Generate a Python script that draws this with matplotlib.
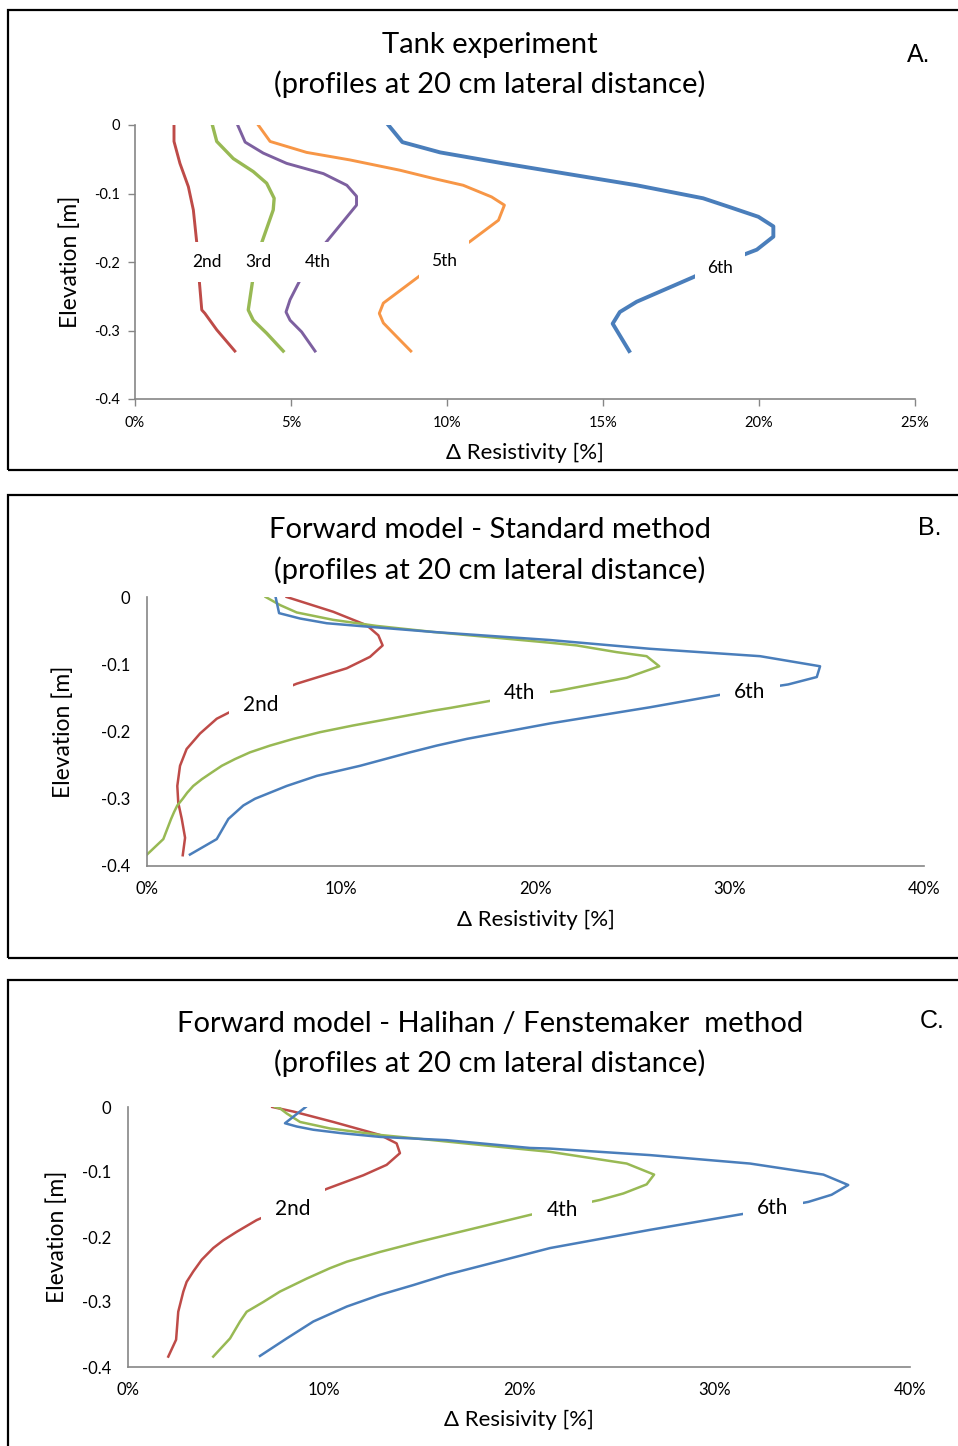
import matplotlib
matplotlib.use("Agg")
import matplotlib.pyplot as plt
from matplotlib.patches import Rectangle
from matplotlib.ticker import FuncFormatter

W, H = 958, 1446
plt.rcParams['font.family'] = ['Lato', 'DejaVu Sans']

BLUE = '#4a7ebb'
RED = '#be4b48'
GREEN = '#98b954'
PURPLE = '#7d60a0'
ORANGE = '#f79646'

# ---- A: tank experiment ----
a2_x = [1.25, 1.25, 1.44, 1.71, 1.87, 1.98, 2.02, 2.06, 2.14, 2.24, 2.62, 3.2]
a2_y = [0, -0.024, -0.056, -0.09, -0.124, -0.172, -0.2, -0.227, -0.27, -0.275, -0.299, -0.33]
a3_x = [2.48, 2.62, 3.15, 3.79, 4.22, 4.46, 4.43, 4.06, 3.92, 3.79, 3.63, 3.79, 4.22, 4.75]
a3_y = [0, -0.024, -0.049, -0.068, -0.085, -0.107, -0.124, -0.172, -0.2, -0.221, -0.27, -0.285, -0.304, -0.33]
a4_x = [3.29, 3.53, 4.11, 4.86, 6.04, 6.79, 7.10, 7.10, 6.11, 5.7, 5.34, 4.97, 4.84, 4.97, 5.34, 5.77]
a4_y = [0, -0.025, -0.041, -0.056, -0.071, -0.088, -0.104, -0.117, -0.172, -0.2, -0.222, -0.255, -0.273, -0.285, -0.302, -0.33]
a5_x = [3.95, 4.33, 5.50, 6.89, 8.49, 9.56, 10.52, 11.43, 11.84, 11.65, 10.74, 9.9, 9.19, 7.96, 7.83, 7.96, 8.28, 8.84]
a5_y = [0, -0.024, -0.04, -0.051, -0.066, -0.078, -0.088, -0.105, -0.117, -0.139, -0.17, -0.195, -0.218, -0.26, -0.275, -0.289, -0.304, -0.33]
a6_x = [8.12, 8.57, 9.78, 11.80, 16.08, 18.21, 19.07, 19.98, 20.46, 20.46, 19.93, 18.9, 17.90, 16.08, 15.54, 15.31, 15.84]
a6_y = [0, -0.025, -0.04, -0.056, -0.088, -0.107, -0.12, -0.134, -0.148, -0.163, -0.182, -0.2, -0.222, -0.258, -0.273, -0.29, -0.33]

# ---- B: forward model, standard method ----
b2_x = [7.19, 9.59, 11.31, 11.91, 12.13, 11.48, 10.28, 7.70, 5.9, 4.27, 3.59, 2.73, 2.04, 1.70, 1.56, 1.61, 1.79, 1.96, 1.84]
b2_y = [0, -0.022, -0.042, -0.057, -0.072, -0.089, -0.106, -0.129, -0.15, -0.171, -0.181, -0.203, -0.226, -0.251, -0.281, -0.306, -0.33, -0.358, -0.384]
b4_x = [6.11, 6.85, 7.71, 9.59, 11.82, 14.74, 20.75, 22.12, 24.18, 25.72, 26.37, 24.70, 21.26, 17.75, 15.60,
        14.74, 12.51, 10.62, 8.91, 7.53, 6.33, 5.30, 4.53, 3.85, 3.33, 2.82, 2.38, 2.07, 1.84, 1.56, 1.39, 1.24,
        0.84, 0.0]
b4_y = [0, -0.012, -0.023, -0.034, -0.043, -0.052, -0.068, -0.072, -0.082, -0.088, -0.103, -0.12, -0.139, -0.154, -0.165,
        -0.169, -0.181, -0.191, -0.201, -0.211, -0.221, -0.231, -0.241, -0.251, -0.261, -0.271, -0.281, -0.291, -0.300,
        -0.310, -0.320, -0.330, -0.36, -0.383]
b6_x = [6.62, 6.80, 7.88, 9.25, 11.31, 14.74, 20.75, 25.89, 31.56, 34.65, 34.48, 33.01, 29.59, 25.89, 20.75,
        16.46, 14.91, 13.54, 10.97, 8.74, 7.19, 5.56, 4.96, 4.19, 3.59, 2.21]
b6_y = [0, -0.024, -0.032, -0.039, -0.044, -0.052, -0.064, -0.077, -0.088, -0.103, -0.119, -0.13, -0.145, -0.164, -0.188,
        -0.211, -0.221, -0.231, -0.251, -0.266, -0.281, -0.300, -0.310, -0.330, -0.36, -0.383]

# ---- C: forward model, Halihan / Fenstemaker method ----
c2_x = [7.38, 8.46, 10.50, 12.89, 13.74, 13.91, 13.23, 12.04, 10.16, 8.4, 6.58, 5.56, 4.88, 4.36, 3.77, 3.34, 3.0,
        2.83, 2.57, 2.46, 2.06]
c2_y = [0, -0.007, -0.023, -0.043, -0.056, -0.071, -0.089, -0.105, -0.126, -0.15, -0.174, -0.192, -0.205, -0.217, -0.235,
        -0.253, -0.269, -0.284, -0.315, -0.358, -0.384]
c4_x = [7.52, 7.77, 8.12, 8.80, 10.33, 12.89, 14.59, 20.56, 21.59, 25.51, 26.91, 26.53, 25.34, 24.14, 20.56,
        16.30, 14.94, 12.89, 11.19, 10.33, 9.14, 7.77, 6.92, 6.07, 5.73, 5.22, 4.36]
c4_y = [0, -0.002, -0.010, -0.023, -0.033, -0.043, -0.048, -0.066, -0.069, -0.087, -0.104, -0.119, -0.133, -0.143, -0.166,
        -0.197, -0.207, -0.223, -0.238, -0.248, -0.264, -0.284, -0.300, -0.315, -0.330, -0.356, -0.384]
c6_x = [9.09, 8.03, 8.63, 9.48, 10.84, 12.89, 16.30, 20.56, 21.59, 26.70, 31.82, 35.57, 36.84, 35.99, 34.80,
        31.56, 26.70, 21.59, 20.56, 16.30, 14.59, 12.89, 11.19, 9.48, 8.12, 6.75]
c6_y = [0, -0.025, -0.030, -0.035, -0.040, -0.046, -0.051, -0.063, -0.064, -0.074, -0.087, -0.104, -0.120, -0.135, -0.146,
        -0.164, -0.189, -0.217, -0.225, -0.258, -0.274, -0.289, -0.307, -0.330, -0.356, -0.383]

fig = plt.figure(figsize=(W / 100, H / 100), dpi=100)


def fx(px):
    return px / W


def fy(py):
    return 1 - py / H


def make_axes(l, t, r, b, xmax, xstep, ticks, tsize):
    ax = fig.add_axes([fx(l), fy(b), (r - l) / W, (b - t) / H])
    ax.set_xlim(0, xmax)
    ax.set_ylim(-0.4, 0)
    ax.set_xticks(range(0, xmax + 1, xstep))
    ax.set_yticks([0, -0.1, -0.2, -0.3, -0.4])
    ax.xaxis.set_major_formatter(FuncFormatter(lambda v, p: '%d%%' % v))
    ax.yaxis.set_major_formatter(FuncFormatter(lambda v, p: '0' if v == 0 else '%.1f' % v))
    for s in ['top', 'right']:
        ax.spines[s].set_visible(False)
    for s in ['left', 'bottom']:
        ax.spines[s].set_color('#868686')
        ax.spines[s].set_linewidth(1.2)
    ax.tick_params(colors='#868686', labelcolor='black', labelsize=tsize,
                   length=5 if ticks else 0, width=1)
    ax.tick_params(axis='x', pad=7 if ticks else 11)
    ax.tick_params(axis='y', pad=6 if ticks else 12)
    ax.patch.set_alpha(0)
    return ax


def axis_titles(ax, xl, xlab_y, ylab_x):
    ax.set_xlabel(xl, fontsize=16)
    ax.set_ylabel('Elevation [m]', fontsize=16.5)
    ax.xaxis.set_label_coords(0.5, xlab_y)
    ax.yaxis.set_label_coords(ylab_x, 0.5)
    ax.xaxis.label.set_va('center')
    ax.yaxis.label.set_va('center')


def label(ax, x, y, s, size):
    ax.text(x, y, s, ha='center', va='center', fontsize=size, zorder=5,
            bbox=dict(facecolor='white', edgecolor='none', boxstyle='square,pad=0.7'))


def frame(l, t, r, b):
    fig.add_artist(Rectangle((fx(l), fy(b)), (r - l) / W, (b - t) / H, transform=fig.transFigure,
                             fill=False, edgecolor='black', linewidth=1.6))


def titles(y1, s1, y2, letter, lx, ly):
    fig.text(fx(490), fy(y1), s1, ha='center', va='center', fontsize=21)
    fig.text(fx(490), fy(y2), '(profiles at 20 cm lateral distance)', ha='center', va='center', fontsize=21)
    fig.text(fx(lx), fy(ly), letter, ha='center', va='center', fontsize=18, family='Liberation Sans')


# panel A
frame(8, 10, 990, 470)
axA = make_axes(135, 125, 915, 399, 25, 5, True, 10.5)
axA.plot(a2_x, a2_y, color=RED, lw=2.1)
axA.plot(a3_x, a3_y, color=GREEN, lw=2.4)
axA.plot(a4_x, a4_y, color=PURPLE, lw=2.1)
axA.plot(a5_x, a5_y, color=ORANGE, lw=2.1)
axA.plot(a6_x, a6_y, color=BLUE, lw=2.8)
label(axA, 2.3, -0.2, '2nd', 12.5)
label(axA, 3.95, -0.2, '3rd', 12.5)
label(axA, 5.85, -0.2, '4th', 12.5)
label(axA, 9.9, -0.198, '5th', 12.5)
label(axA, 18.75, -0.209, '6th', 12.5)
axis_titles(axA, 'Δ Resistivity [%]', -0.197, -0.083)
titles(45, 'Tank experiment', 84, 'A.', 919, 55)

# panel B
frame(8, 495, 990, 958)
axB = make_axes(147, 597, 924, 866, 40, 10, False, 12)
axB.plot(b2_x, b2_y, color=RED, lw=1.8)
axB.plot(b4_x, b4_y, color=GREEN, lw=1.8)
axB.plot(b6_x, b6_y, color=BLUE, lw=1.8)
label(axB, 5.87, -0.160, '2nd', 15)
label(axB, 19.2, -0.143, '4th', 15)
label(axB, 31.04, -0.142, '6th', 15)
axis_titles(axB, 'Δ Resistivity [%]', -0.2007, -0.108)
titles(530, 'Forward model - Standard method', 570, 'B.', 930, 528)

# panel C
frame(8, 980, 990, 1500)
axC = make_axes(128, 1107, 910, 1367, 40, 10, False, 12)
axC.plot(c2_x, c2_y, color=RED, lw=1.8)
axC.plot(c4_x, c4_y, color=GREEN, lw=1.8)
axC.plot(c6_x, c6_y, color=BLUE, lw=1.8)
label(axC, 8.44, -0.157, '2nd', 15)
label(axC, 22.2, -0.158, '4th', 15)
label(axC, 32.99, -0.155, '6th', 15)
axis_titles(axC, 'Δ Resisivity [%]', -0.204, -0.091)
titles(1024, 'Forward model - Halihan / Fenstemaker  method', 1063, 'C.', 932, 1021)

fig.savefig('out.png', dpi=100)
